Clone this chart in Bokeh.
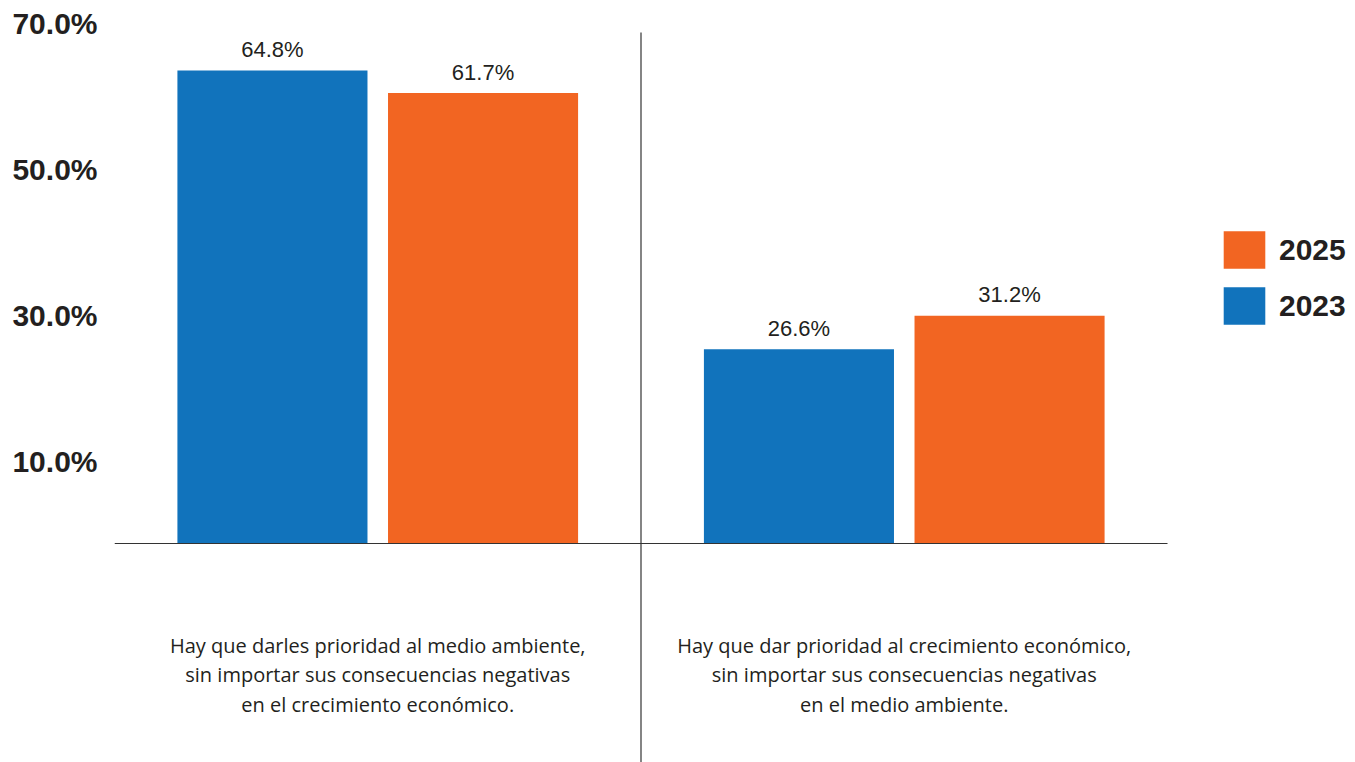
from bokeh.plotting import figure
from bokeh.models import (ColumnDataSource, Range1d, Span, Legend, LegendItem,
                          LinearAxis, FixedTicker, PrintfTickFormatter)
from bokeh.core.properties import value
from bokeh.embed import file_html
from bokeh.resources import INLINE

# ---- data ----
categories = ["medio_ambiente", "crecimiento"]
category_labels = [
    "Hay que darles prioridad al medio ambiente,\nsin importar sus consecuencias negativas\nen el crecimiento económico.",
    "Hay que dar prioridad al crecimiento económico,\nsin importar sus consecuencias negativas\nen el medio ambiente.",
]
values_2023 = [64.8, 26.6]
values_2025 = [61.7, 31.2]
series_names = ["2023", "2025"]
y_ticks = [10, 30, 50, 70]

BLUE = "#1173BC"
ORANGE = "#F26522"
DARK = "#231F20"

# ---- geometry ----
W, H = 1355, 762
LEFT, TOP = 114, 23
PX_PER_UNIT = 7.3
ZERO_Y = 543            # screen y of value 0
CAT_PX = 526.5          # screen width of one category slot
y_end = (ZERO_Y - TOP) / PX_PER_UNIT
y_start = -(H - ZERO_Y) / PX_PER_UNIT
x_end = (W - LEFT) / CAT_PX
shift = 1.22

p = figure(width=W, height=H, output_backend="svg", toolbar_location=None,
           x_range=Range1d(0, x_end), y_range=Range1d(y_start, y_end),
           x_axis_location=None, y_axis_location=None,
           min_border_left=LEFT, min_border_right=0, min_border_top=TOP, min_border_bottom=0)
p.outline_line_color = None
p.xgrid.visible = False
p.ygrid.visible = False
p.background_fill_color = "white"
p.border_fill_color = "white"

p.extra_y_ranges = {"lab": Range1d(y_start - shift, y_end - shift)}
yax = LinearAxis(y_range_name="lab", ticker=FixedTicker(ticks=y_ticks),
                 formatter=PrintfTickFormatter(format="%.1f%%"))
yax.axis_line_color = None
yax.major_tick_line_color = None
yax.minor_tick_line_color = None
yax.major_tick_out = 0
yax.major_tick_in = 0
yax.major_label_standoff = 17
yax.major_label_text_font = "Liberation Sans"
yax.major_label_text_font_style = "bold"
yax.major_label_text_font_size = "30px"
yax.major_label_text_color = DARK
p.add_layout(yax, "left")

n = len(categories)
centers = [i + 0.5 for i in range(n)]
OFF, BW = 0.2, 0.361
src = ColumnDataSource(dict(
    xc=centers,
    x23=[c - OFF for c in centers],
    x25=[c + OFF for c in centers],
    v2023=values_2023,
    v2025=values_2025,
    l2023=[f"{v:.1f}%" for v in values_2023],
    l2025=[f"{v:.1f}%" for v in values_2025],
))

r23 = p.vbar(x="x23", top="v2023", bottom=0, width=BW, source=src,
             fill_color=BLUE, line_color=None)
r25 = p.vbar(x="x25", top="v2025", bottom=0, width=BW, source=src,
             fill_color=ORANGE, line_color=None)

for xcol, ycol, tcol in (("x23", "v2023", "l2023"), ("x25", "v2025", "l2025")):
    p.text(x=xcol, y=ycol, text=tcol, source=src,
           text_align="center", text_baseline="alphabetic", y_offset=-21,
           text_font=value("Liberation Sans"), text_font_size="22px", text_color=DARK)

# category labels below baseline
lx, ly, lt, lo = [], [], [], []
for c, lab in zip(centers, category_labels):
    for i, line in enumerate(lab.split("\n")):
        lx.append(c)
        ly.append(0)
        lt.append(line)
        lo.append(102 + i * 29.3)
lsrc = ColumnDataSource(dict(x=lx, y=ly, t=lt, o=lo))
p.text(x="x", y="y", text="t", y_offset="o", source=lsrc,
       text_align="center", text_baseline="alphabetic",
       text_font=value("Open Sans"), text_font_size="20px", text_color=DARK)

# baseline and category divider
p.segment(x0=[0], y0=[0], x1=[n], y1=[0], line_color="#333333", line_width=1.2)
div = list(range(1, n))
p.segment(x0=div, y0=[max(y_ticks)] * len(div), x1=div, y1=[y_start] * len(div),
          line_color="#333333", line_width=1.2)

legend = Legend(items=[LegendItem(label=series_names[1], renderers=[r25]),
                       LegendItem(label=series_names[0], renderers=[r23])],
                location=(1104, 433), orientation="vertical",
                glyph_width=52, glyph_height=47, label_standoff=9, spacing=9,
                padding=0, margin=0, border_line_color=None, background_fill_alpha=0,
                label_text_font="Liberation Sans", label_text_font_style="bold",
                label_text_font_size="30px", label_text_color=DARK)
p.add_layout(legend, "center")

open("out.html", "w").write(file_html(p, INLINE))
